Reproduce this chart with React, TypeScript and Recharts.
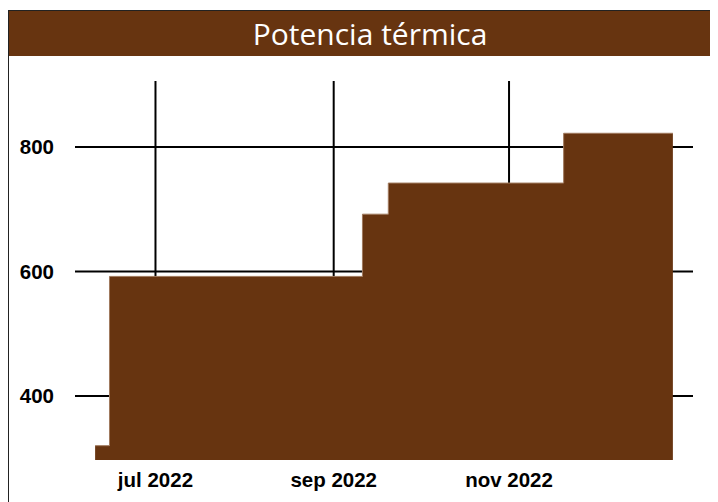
import React from 'react';
import { AreaChart, Area, XAxis, YAxis, CartesianGrid } from 'recharts';

const BROWN = '#673410';

// step dates and thermal power (value holds until the next date)
const STEP_DATES = ['2022-06-10', '2022-06-15', '2022-09-11', '2022-09-20', '2022-11-20', '2022-12-28'];
const POWER = [320, 592, 692, 742, 822, 822];

const TICK_DATES = ['2022-07-01', '2022-09-01', '2022-11-01'];
const TICK_LABELS = ['jul 2022', 'sep 2022', 'nov 2022'];
const Y_TICKS = [400, 600, 800];

const X_START = '2022-06-03';
const X_END = '2023-01-04';
const Y_MIN = 297;
const Y_MAX = 906;

const data = STEP_DATES.map((d, i) => ({ t: Date.parse(d), value: POWER[i] }));
const xTicks = TICK_DATES.map((d) => Date.parse(d));
const xMin = Date.parse(X_START);
const xMax = Date.parse(X_END);

const fmtX = (v: number) => {
  const i = xTicks.indexOf(v);
  return i >= 0 ? TICK_LABELS[i] : '';
};

const tickStyle = { fill: '#000', fontSize: 20.5, fontWeight: 700, fontFamily: '"Liberation Sans", Arial, sans-serif' };

// grid only at the tick values, no frame lines on the plot edges
const hLines = ({ offset }: any) =>
  Y_TICKS.map((v) => offset.top + ((Y_MAX - v) / (Y_MAX - Y_MIN)) * offset.height);
const vLines = ({ offset }: any) =>
  xTicks.map((v) => offset.left + ((v - xMin) / (xMax - xMin)) * offset.width);

export default function App() {
  return (
    <div style={{ position: 'relative', width: 710, height: 494, overflow: 'hidden' }}>
      {/* framed panel, clipped on the right and bottom */}
      <div
        style={{
          position: 'absolute',
          left: 0,
          top: 2,
          width: 724,
          height: 520,
          border: '1.5px solid #222',
          boxSizing: 'border-box',
          background: '#fff',
        }}
      >
        <div
          style={{
            height: 45,
            background: BROWN,
            color: '#fff',
            textAlign: 'center',
            fontFamily: '"Open Sans", sans-serif',
            fontSize: 30,
            lineHeight: '45px',
          }}
        >
          Potencia térmica
        </div>
      </div>
      <div style={{ position: 'absolute', left: -8, top: -8 }}>
        <AreaChart width={718} height={502} data={data} margin={{ top: 81, right: 25, left: 0, bottom: 0 }}>
          <CartesianGrid
            stroke="#000"
            strokeWidth={2}
            horizontalCoordinatesGenerator={hLines}
            verticalCoordinatesGenerator={vLines}
          />
          <XAxis
            dataKey="t"
            type="number"
            scale="time"
            domain={[xMin, xMax]}
            ticks={xTicks}
            tickFormatter={fmtX}
            axisLine={false}
            tickLine={false}
            tickSize={0}
            tickMargin={12}
            height={42}
            tick={tickStyle}
            allowDataOverflow
          />
          <YAxis
            type="number"
            domain={[Y_MIN, Y_MAX]}
            ticks={Y_TICKS}
            axisLine={false}
            tickLine={false}
            tickSize={0}
            tickMargin={21}
            width={75}
            tick={tickStyle}
            allowDataOverflow
          />
          <Area
            type="stepAfter"
            dataKey="value"
            stroke="#a07a5e"
            strokeWidth={1}
            fill={BROWN}
            fillOpacity={1}
            isAnimationActive={false}
          />
        </AreaChart>
      </div>
    </div>
  );
}
